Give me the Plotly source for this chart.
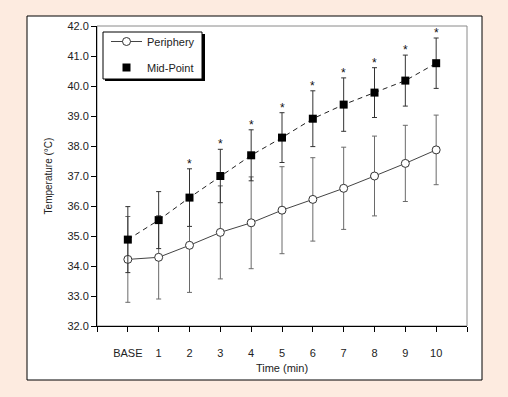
import plotly.graph_objects as go

# ---- data ----
categories = ["BASE", "1", "2", "3", "4", "5", "6", "7", "8", "9", "10"]
periphery = [34.22, 34.29, 34.69, 35.12, 35.44, 35.86, 36.22, 36.59, 37.00, 37.42, 37.87]
periphery_sd = [1.43, 1.39, 1.57, 1.55, 1.53, 1.45, 1.39, 1.37, 1.33, 1.27, 1.16]
midpoint = [34.88, 35.53, 36.28, 37.00, 37.69, 38.28, 38.91, 39.38, 39.78, 40.18, 40.76]
midpoint_sd = [1.10, 0.95, 0.96, 0.89, 0.85, 0.83, 0.93, 0.89, 0.83, 0.85, 0.84]
signif = ["", "", "*", "*", "*", "*", "*", "*", "*", "*", "*"]
y_ticks = [32.0, 33.0, 34.0, 35.0, 36.0, 37.0, 38.0, 39.0, 40.0, 41.0, 42.0]

xs = list(range(len(categories)))

# plot area in pixels
W, H = 508, 397
L, R, T, B = 97, 467, 26, 326


def px_x(p):
    return (p - L) / (R - L)


def px_y(p):
    return (B - p) / (B - T)


FONT = "Liberation Sans, Arial, sans-serif"
fig = go.Figure()

# periphery
fig.add_trace(go.Scatter(
    x=xs, y=periphery, mode="lines+markers", showlegend=False,
    line=dict(color="#444444", width=1),
    marker=dict(symbol="circle", size=8, color="white", line=dict(color="#333333", width=1)),
    error_y=dict(type="data", array=periphery_sd, visible=True, color="#6a6a6a", thickness=1, width=2.5),
))
# mid-point
fig.add_trace(go.Scatter(
    x=xs, y=midpoint, mode="lines+markers", showlegend=False,
    line=dict(color="#222222", width=1, dash="5px,4px"),
    marker=dict(symbol="square", size=8, color="black", line=dict(color="black", width=0)),
    error_y=dict(type="data", array=midpoint_sd, visible=True, color="#333333", thickness=1, width=2.5),
))

# legend-only entries
fig.add_trace(go.Scatter(
    x=[None], y=[None], mode="lines+markers", name="Periphery", legendgroup="a",
    line=dict(color="#444444", width=1),
    marker=dict(symbol="circle", size=8, color="white", line=dict(color="#333333", width=1)),
))
fig.add_trace(go.Scatter(
    x=[None], y=[None], mode="markers", name="Mid-Point", legendgroup="b",
    marker=dict(symbol="square", size=8, color="black"),
))

# significance stars
for x, m, s, t in zip(xs, midpoint, midpoint_sd, signif):
    if t:
        fig.add_annotation(x=x, y=m + s, text=t, showarrow=False, yanchor="middle",
                           yshift=5, font=dict(family=FONT, size=12, color="#111111"))

shapes = [
    # white panel with black border
    dict(type="rect", xref="paper", yref="paper", x0=px_x(27), x1=px_x(482), y0=px_y(380), y1=px_y(16),
         fillcolor="white", line=dict(color="black", width=1), layer="below"),
    # grey frame around plot area
    dict(type="rect", xref="paper", yref="paper", x0=0, x1=1, y0=0, y1=1,
         fillcolor="rgba(0,0,0,0)", line=dict(color="#8a8a8a", width=1), layer="below"),
    # legend shadow
    dict(type="rect", xref="paper", yref="paper", x0=px_x(105), x1=px_x(205), y0=px_y(81), y1=px_y(34),
         fillcolor="black", line=dict(width=0), layer="above"),
    # legend box
    dict(type="rect", xref="paper", yref="paper", x0=px_x(103), x1=px_x(202), y0=px_y(79), y1=px_y(32),
         fillcolor="white", line=dict(color="black", width=1), layer="above"),
]

fig.update_layout(
    width=W, height=H,
    margin=dict(l=L, r=W - R, t=T, b=H - B),
    paper_bgcolor="#fdebe0", plot_bgcolor="white",
    font=dict(family=FONT, size=11, color="#222222"),
    shapes=shapes,
    legend=dict(x=px_x(106), y=px_y(27), xanchor="left", yanchor="top",
                bgcolor="rgba(0,0,0,0)", borderwidth=0, itemwidth=31,
                font=dict(family=FONT, size=11, color="#222222"),
                traceorder="grouped", tracegroupgap=7),
    xaxis=dict(range=[-1, len(categories)], tickmode="array",
               tickvals=[-1] + xs + [len(categories)],
               ticktext=[""] + categories + [""],
               showline=True, linecolor="black", linewidth=1,
               ticks="outside", ticklen=5, tickcolor="black",
               showgrid=False, zeroline=False, ticklabelstandoff=12,
               title=dict(text="Time (min)", font=dict(family=FONT, size=11), standoff=6)),
    yaxis=dict(range=[32, 42], tickmode="array", tickvals=y_ticks,
               ticktext=[f"{v:.1f}" for v in y_ticks],
               showline=True, linecolor="black", linewidth=1,
               ticks="outside", ticklen=5, tickcolor="black",
               showgrid=False, zeroline=False,
               title=dict(text="Temperature (°C)", font=dict(family=FONT, size=10), standoff=12)),
)

fig.write_html("out.html", config={"displayModeBar": False},
               post_script="document.body.style.margin='0';document.body.style.overflow='hidden';")
